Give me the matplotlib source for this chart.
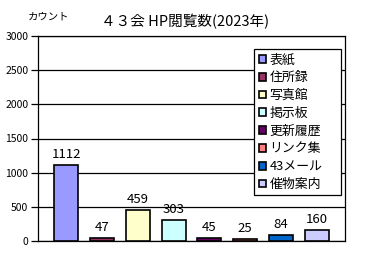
import matplotlib
matplotlib.use("Agg")
import matplotlib.pyplot as plt

plt.rcParams['font.family'] = ['Noto Sans CJK JP', 'DejaVu Sans']

categories = ["表紙", "住所録", "写真館", "掲示板", "更新履歴", "リンク集", "43メール", "催物案内"]
values = [1112, 47, 459, 303, 45, 25, 84, 160]
colors = ["#9999FF", "#993366", "#FFFFCC", "#CCFFFF", "#660066", "#FF8080", "#0066CC", "#CCCCFF"]
yticks = [0, 500, 1000, 1500, 2000, 2500, 3000]

fig = plt.figure(figsize=(3.65, 2.70), dpi=100)
ax = fig.add_axes([38/365, 1-241/270, (345-38)/365, (241-36)/270])

x = list(range(len(values)))
bars = ax.bar(x, values, width=0.67, color=colors, edgecolor="black", linewidth=1.2,
              label=categories, zorder=3)
for xi, v in zip(x, values):
    ax.text(xi, v + 60, str(v), ha="center", va="bottom", fontsize=9.5, zorder=4)

ax.set_xlim(-0.785, 7.785)
ax.set_ylim(0, 3000)
ax.set_yticks(yticks)
ax.set_yticklabels([str(t) for t in yticks], fontsize=7.5)
ax.set_xticks([])
ax.yaxis.grid(True, color="black", linewidth=0.9, zorder=0)
ax.tick_params(axis="y", length=5, width=0.9, pad=2)
for s in ax.spines.values():
    s.set_linewidth(0.9)

x0 = (254-38)/307
w = (341-254)/307
y1 = 1-(49-36)/205
leg = ax.legend(bars, categories, loc="upper left", bbox_to_anchor=(x0, y1 - 0.5, w, 0.5),
                mode="expand",
                fontsize=9.3, frameon=True, fancybox=False, edgecolor="black", framealpha=1,
                handlelength=0.55, handleheight=0.55, handletextpad=0.3, labelspacing=0.37,
                borderpad=0.35, borderaxespad=0)
leg.get_frame().set_linewidth(0.9)
leg.set_zorder(5)

fig.text(185/365, 1-22/270, "４３会 HP閲覧数(2023年)", ha="center", va="center", fontsize=10.5)
fig.text(49/365, 1-17/270, "カウント", ha="center", va="center", fontsize=7.5)

fig.savefig("out.png", dpi=100)
